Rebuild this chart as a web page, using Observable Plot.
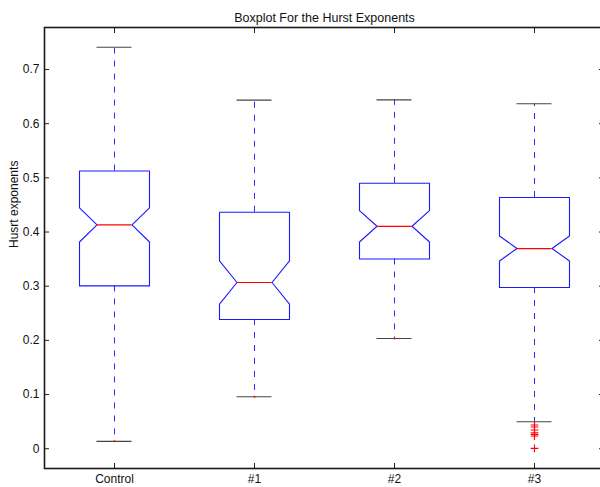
<!DOCTYPE html>
<html>
<head>
<meta charset="utf-8">
<script src="https://cdn.jsdelivr.net/npm/d3@7"></script>
<script src="https://cdn.jsdelivr.net/npm/@observablehq/plot@0.6"></script>
<style>
  html, body { margin: 0; padding: 0; background: #fff; overflow: hidden; }
  #chart { position: relative; width: 600px; height: 487px; overflow: hidden; }
  #chart svg { max-width: none !important; display: block; }
</style>
</head>
<body>
<div id="chart"></div>
<script>
// Groups and their notched-boxplot statistics
const categories = ["Control", "#1", "#2", "#3"];
const q1          = [0.3005, 0.2386, 0.3503, 0.2976];
const median      = [0.4130, 0.3068, 0.4106, 0.3695];
const q3          = [0.5125, 0.4364, 0.4899, 0.4636];
const notchLow    = [0.3816, 0.2668, 0.3816, 0.3466];
const notchHigh   = [0.4444, 0.3466, 0.4395, 0.3927];
const whiskerLow  = [0.0136, 0.0959, 0.2035, 0.0498];
const whiskerHigh = [0.7410, 0.6435, 0.6440, 0.6368];
// Outliers below the lower whisker of group #3
const outliers3   = [0.0437, 0.0400, 0.0345, 0.0295, 0.0265, 0.0234, 0.0007];
const yTicks      = [0, 0.1, 0.2, 0.3, 0.4, 0.5, 0.6, 0.7];

const title = "Boxplot For the Hurst Exponents";
const yLabel = "Husrt exponents";

const boxHalf = 0.25;    // half box width, in category units
const notchHalf = 0.125; // half width at the notch waist and of whisker caps

const stats = categories.map((name, i) => ({
  name, x: i + 1,
  q1: q1[i], med: median[i], q3: q3[i],
  nlo: notchLow[i], nhi: notchHigh[i],
  lo: whiskerLow[i], hi: whiskerHigh[i]
}));

// Closed notched outline for each box
const outline = stats.flatMap(s => [
  [s.x - boxHalf, s.q1], [s.x - boxHalf, s.nlo], [s.x - notchHalf, s.med],
  [s.x - boxHalf, s.nhi], [s.x - boxHalf, s.q3], [s.x + boxHalf, s.q3],
  [s.x + boxHalf, s.nhi], [s.x + notchHalf, s.med], [s.x + boxHalf, s.nlo],
  [s.x + boxHalf, s.q1], [s.x - boxHalf, s.q1]
].map(([x, y]) => ({name: s.name, x, y})));

const outlierData = outliers3.map(v => ({x: 4, y: v}));

const font = "'Liberation Sans', Arial, Helvetica, sans-serif";

const chart = Plot.plot({
  width: 608,
  height: 487,
  marginLeft: 44,
  marginRight: 4,
  marginTop: 27,
  marginBottom: 19,
  style: {fontFamily: font, fontSize: "12px", color: "#111", background: "#fff", maxWidth: "none"},
  x: {type: "linear", domain: [0.5, 4.5], axis: null},
  y: {domain: [-0.0365, 0.7775], axis: null},
  marks: [
    // whiskers
    Plot.ruleX(stats, {x: "x", y1: "q3", y2: "hi", stroke: "#2b2bff", strokeWidth: 1, strokeDasharray: "6,7"}),
    Plot.ruleX(stats, {x: "x", y1: "q1", y2: "lo", stroke: "#2b2bff", strokeWidth: 1, strokeDasharray: "6,7"}),
    // whisker caps
    Plot.ruleY(stats, {y: "hi", x1: d => d.x - notchHalf, x2: d => d.x + notchHalf, stroke: "#444", strokeWidth: 1.2}),
    Plot.ruleY(stats, {y: "lo", x1: d => d.x - notchHalf, x2: d => d.x + notchHalf, stroke: "#444", strokeWidth: 1.2}),
    // notched boxes
    Plot.line(outline, {x: "x", y: "y", z: "name", stroke: "#1a1aff", strokeWidth: 1.1}),
    // medians
    Plot.ruleY(stats, {y: "med", x1: d => d.x - notchHalf, x2: d => d.x + notchHalf, stroke: "#ff0000", strokeWidth: 1.2}),
    // outlier markers
    Plot.dot(stats.slice(0, 3), {x: "x", y: "lo", r: 1, fill: "#ff0000", stroke: null}),
    Plot.dot(outlierData, {x: "x", y: "y", symbol: "plus", r: 2.6, stroke: "#ff0000", strokeWidth: 1.1}),
    // axes box
    Plot.frame({stroke: "#1a1a1a", strokeWidth: 1.6}),
    // y axis labels and inward ticks
    Plot.axisY(yTicks, {anchor: "left", tickSize: 0, tickPadding: 5, label: null, tickFormat: d => String(d), fill: "#111"}),
    Plot.axisY(yTicks, {anchor: "left", tickSize: -5, tickFormat: () => "", label: null, stroke: "#222"}),
    Plot.axisY(yTicks, {anchor: "right", tickSize: -6, tickFormat: () => "", label: null, stroke: "#222"}),
    // x axis labels and inward ticks
    Plot.axisX([1, 2, 3, 4], {anchor: "bottom", tickSize: 0, tickPadding: 6, label: null, tickFormat: d => categories[d - 1], fill: "#111"}),
    Plot.axisX([1, 2, 3, 4], {anchor: "bottom", tickSize: -5, tickFormat: () => "", label: null, stroke: "#222"}),
    Plot.axisX([1, 2, 3, 4], {anchor: "top", tickSize: -5, tickFormat: () => "", label: null, stroke: "#222"}),
    // title and y label
    Plot.text([title], {frameAnchor: "top", dy: -14, fontSize: 12.5, fill: "#111"}),
    Plot.text([yLabel], {frameAnchor: "left", dx: -30, rotate: -90, fontSize: 12, fill: "#111"})
  ]
});

document.getElementById("chart").appendChild(chart);
</script>
</body>
</html>
